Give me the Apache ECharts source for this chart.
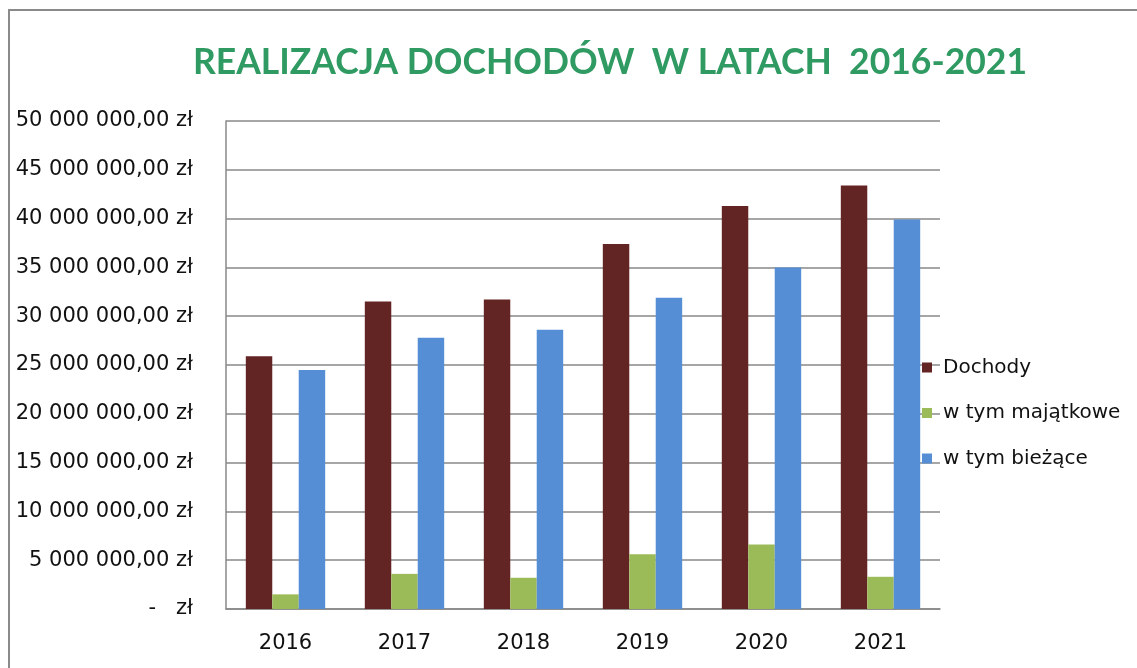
<!DOCTYPE html>
<html>
<head>
<meta charset="utf-8">
<script src="https://cdn.jsdelivr.net/npm/echarts@6/dist/echarts.min.js"></script>
<style>
html,body{margin:0;padding:0;background:#fff;}
#chart{width:1137px;height:668px;}
</style>
</head>
<body>
<div id="chart"></div>
<script>
const titleText = 'REALIZACJA DOCHODÓW  W LATACH  2016-2021';
const categories = ['2016', '2017', '2018', '2019', '2020', '2021'];
const seriesNames = ['Dochody', 'w tym majątkowe', 'w tym bieżące'];
const dochody = [25900000, 31500000, 31700000, 37400000, 41300000, 43400000];
const majatkowe = [1500000, 3600000, 3200000, 5600000, 6600000, 3300000];
const biezace = [24500000, 27800000, 28600000, 31900000, 35000000, 39900000];
const yTicks = [0, 5000000, 10000000, 15000000, 20000000, 25000000, 30000000, 35000000, 40000000, 45000000, 50000000];

function fmtZl(v) {
  if (v === 0) return '-   zł';
  const s = Math.round(v).toString().replace(/\B(?=(\d{3})+(?!\d))/g, ' ');
  return s + ',00 zł';
}

const chart = echarts.init(document.getElementById('chart'), null, {renderer: 'canvas'});
const font = 'DejaVu Sans';
const colors = ['#632523', '#9BBB59', '#558ED5'];

chart.setOption({
  animation: false,
  backgroundColor: '#ffffff',
  title: {
    text: titleText,
    left: 605,
    top: 40,
    textAlign: 'center',
    textStyle: {
      fontFamily: 'Lato',
      fontWeight: 'bold',
      fontSize: 35.5,
      color: '#2F9A62'
    }
  },
  graphic: [{
    type: 'polyline',
    shape: {points: [[9, 700], [9, 10], [1150, 10]]},
    style: {stroke: '#8a8a8a', lineWidth: 2, fill: null},
    silent: true
  }],
  legend: {
    orient: 'vertical',
    left: 922,
    top: 357,
    itemWidth: 10,
    itemHeight: 10,
    itemGap: 24.5,
    icon: 'rect',
    padding: 0,
    data: seriesNames,
    textStyle: {fontFamily: font, fontSize: 20, lineHeight: 21, color: '#111', padding: [0, 0, 0, 6]}
  },
  grid: {left: 226, top: 121, right: 197, bottom: 59, containLabel: false},
  xAxis: {
    type: 'category',
    data: categories,
    axisLine: {show: true, lineStyle: {color: '#888', width: 1.5}},
    axisTick: {show: false},
    axisLabel: {fontFamily: font, fontSize: 21, color: '#111', margin: 24}
  },
  yAxis: {
    type: 'value',
    min: yTicks[0],
    max: yTicks[yTicks.length - 1],
    interval: yTicks[1] - yTicks[0],
    axisLine: {show: true, lineStyle: {color: '#888', width: 1.5}},
    axisTick: {show: false},
    splitLine: {show: true, lineStyle: {color: '#888', width: 1.5}},
    axisLabel: {fontFamily: font, fontSize: 21, color: '#111', margin: 33, formatter: fmtZl}
  },
  series: [
    {name: seriesNames[0], type: 'bar', data: dochody, itemStyle: {color: colors[0]}, barGap: '0%', barCategoryGap: '33.3%'},
    {name: seriesNames[1], type: 'bar', data: majatkowe, itemStyle: {color: colors[1]}, barGap: '0%', barCategoryGap: '33.3%'},
    {name: seriesNames[2], type: 'bar', data: biezace, itemStyle: {color: colors[2]}, barGap: '0%', barCategoryGap: '33.3%'}
  ]
});
</script>
</body>
</html>
